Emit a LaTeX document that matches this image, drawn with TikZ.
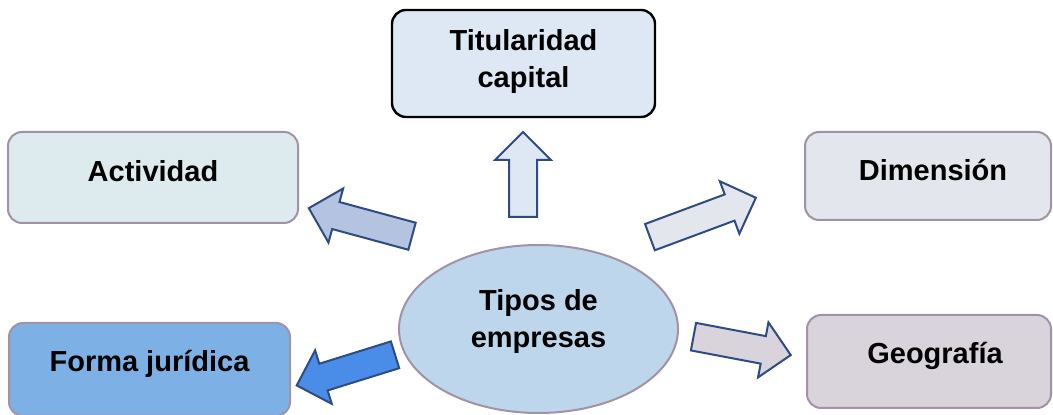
\documentclass[tikz,border=0pt]{standalone}
\usepackage{fontspec}
\setmainfont{Liberation Sans}
\usetikzlibrary{shapes.geometric, shapes.arrows}

\definecolor{boxline}{HTML}{A093A6}
\definecolor{arrline}{HTML}{2E4B82}
\definecolor{titfill}{HTML}{DDE8F4}
\definecolor{actfill}{HTML}{DDEBEF}
\definecolor{actarr}{HTML}{B4C3E0}
\definecolor{dimfill}{HTML}{E3E6EC}
\definecolor{forfill}{HTML}{7DB0E4}
\definecolor{forarr}{HTML}{4A8DE9}
\definecolor{geofill}{HTML}{D9D3DB}
\definecolor{tipfill}{HTML}{BDD6EC}

\begin{document}
\begin{tikzpicture}[x=0.5pt, y=-0.5pt,
  box/.style={draw=boxline, line width=1pt, rounded corners=7pt, inner sep=0pt},
  txt/.style={font=\bfseries\fontsize{14.5}{18.5}\selectfont, align=center, yshift=3pt},
  blk/.style={single arrow, anchor=tail, draw=arrline, line width=1pt, inner xsep=0pt, inner ysep=6.5pt, minimum width=27pt, single arrow head extend=7pt}]
  \useasboundingbox (0,0) rectangle (1053,415);

  \node[box, draw=black, line width=1.2pt, fill=titfill, minimum width=131.5pt, minimum height=53.5pt, label={[txt, yshift=-2pt]center:Titularidad\\capital}] (tit) at (523.5,63.5) {};
  \node[box, fill=actfill, minimum width=145pt, minimum height=45.5pt, label={[txt]center:Actividad}] (act) at (153,177.5) {};
  \node[box, fill=dimfill, minimum width=123pt, minimum height=44pt, label={[txt, xshift=2.5pt]center:Dimensión}] (dim) at (928,176) {};
  \node[box, fill=forfill, minimum width=140.5pt, minimum height=46.5pt, label={[txt]center:Forma jurídica}] (for) at (149.5,369.5) {};
  \node[box, fill=geofill, minimum width=122pt, minimum height=46.5pt, label={[txt, xshift=3pt]center:Geografía}] (geo) at (929,361.5) {};

  \node[ellipse, draw=boxline, line width=1pt, fill=tipfill, minimum width=139.5pt, minimum height=84pt, label={[txt, yshift=0.5pt]center:Tipos de\\empresas}] (tipos) at (538.5,329) {};

  \node[blk, fill=titfill, minimum height=42.5pt, rotate=90] (a1) at (523,218) {};
  \node[blk, fill=actarr, minimum height=53.5pt, rotate=164.8] (a2) at (413,236.5) {};
  \node[blk, fill=dimfill, minimum height=56.5pt, rotate=20.4] (a3) at (649,237.5) {};
  \node[blk, fill=forarr, minimum height=51.5pt, rotate=197.3] (a4) at (396,354.5) {};
  \node[blk, fill=geofill, minimum height=49.5pt, rotate=-10.7] (a5) at (692.5,336.5) {};
\end{tikzpicture}
\end{document}
